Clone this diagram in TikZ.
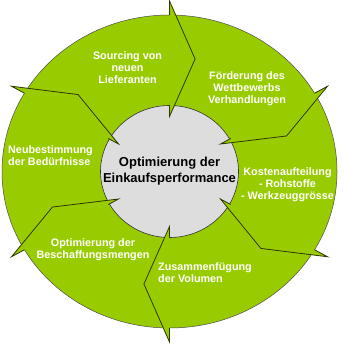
\documentclass[tikz,border=0pt]{standalone}
\usepackage{fontspec}
\setmainfont{Liberation Sans}
\definecolor{ringgreen}{RGB}{153,204,0}
\definecolor{hubgray}{RGB}{221,221,221}
\definecolor{edgeline}{RGB}{45,55,0}
\begin{document}
\begin{tikzpicture}[x=1pt,y=1pt,
  lbl/.style={text=white,font=\bfseries\fontsize{10.8}{12}\selectfont,inner sep=0pt,align=center},
  hubtext/.style={text=black,font=\bfseries\fontsize{13}{16}\selectfont,inner sep=0pt,align=center}]
\useasboundingbox (0,0) rectangle (344,-344);
\fill[white] (0,0) rectangle (344,-344);
\begin{scope}[shift={(169.5,-171.5)}]
  \fill[ringgreen] (0,0) ellipse [x radius=167.5,y radius=156.5];
  \draw[gray!60!black,line width=0.5] (0,0) ellipse [x radius=167.5,y radius=156.5];
  \filldraw[fill=hubgray,draw=gray!40!black,line width=0.6] (0,0) ellipse [x radius=69,y radius=66];
  \begin{scope}[xscale=1.07]
    \foreach \t [evaluate=\t as \s using \t-12] in {90,30,-30,-90,-150,150}{
      \fill[ringgreen] (\t:170.5) -- (\s:115) -- (\t:55) -- cycle;
      \draw[edgeline,line width=0.8,line join=miter] (\t:156.5) -- (\t:170.5) -- (\s:115) -- (\t:55) -- (\t:66);
    }
  \end{scope}
\end{scope}
\node[hubtext] (hub) at (169.5,-171) {Optimierung der\\Einkaufsperformance};
\node[lbl] (src) at (127.5,-67.5) {Sourcing von\\neuen\\Lieferanten};
\node[lbl] (wett) at (247,-89) {Förderung des\\Wettbewerbs\\Verhandlungen};
\node[lbl] (kost) at (287.5,-185) {Kostenaufteilung\\- Rohstoffe\\- Werkzeuggrösse};
\node[lbl,align=left,anchor=west] (vol) at (158,-273) {Zusammenfügung\\der Volumen};
\node[lbl] (menge) at (93,-250) {Optimierung der\\Beschaffungsmengen};
\node[lbl,align=left,anchor=west] (bed) at (8,-156) {Neubestimmung\\der Bedürfnisse};
\end{tikzpicture}
\end{document}
